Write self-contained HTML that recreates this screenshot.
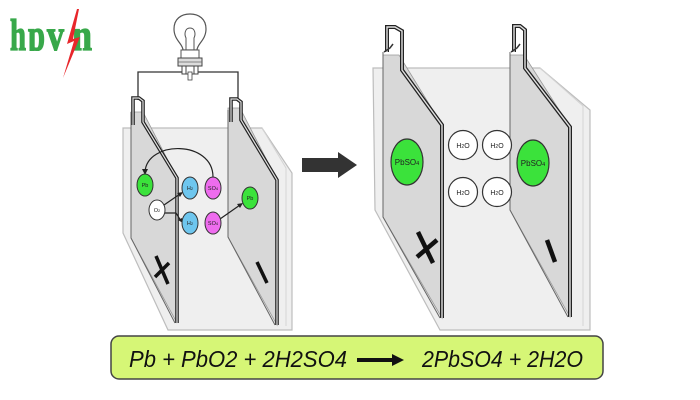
<!DOCTYPE html>
<html><head><meta charset="utf-8"><style>
html,body{margin:0;padding:0;background:#fff;}
svg{display:block;}
</style></head><body>
<svg width="700" height="400" viewBox="0 0 700 400" xmlns="http://www.w3.org/2000/svg" font-family="Liberation Sans, Arial, sans-serif">
<defs><clipPath id="lc"><rect x="0" y="0" width="120" height="51"/></clipPath></defs>
<rect width="700" height="400" fill="#fff"/>
<!-- logo -->
<g clip-path="url(#lc)" font-family="Liberation Serif, serif" font-weight="bold" font-size="44" fill="#38a84a" stroke="#38a84a" stroke-width="1.3">
<text x="10" y="50" textLength="16" lengthAdjust="spacingAndGlyphs">h</text>
<text x="28" y="50" textLength="17" lengthAdjust="spacingAndGlyphs">p</text>
<text x="47" y="50" textLength="17" lengthAdjust="spacingAndGlyphs">v</text>
<text x="72" y="50" textLength="20" lengthAdjust="spacingAndGlyphs">n</text>
</g>
<polygon points="77,9 67,44 74,41 63,78 80,37 73,39 79,9" fill="#e8262b"/>

<!-- ===== LEFT CELL ===== -->
<!-- wire -->
<path d="M138,100 V72 H238 V100" fill="none" stroke="#333" stroke-width="1.3"/>
<!-- bulb -->
<path d="M183,50 C183,44 174,40 174,29 C174,19 181,14 190,14 C199,14 206,19 206,29 C206,40 197,44 197,50 Z" fill="#fff" stroke="#555" stroke-width="1.2"/>
<path d="M186,50 V38 C184,34 185,28 190,28 C195,28 196,34 194,38 V50" fill="none" stroke="#555" stroke-width="1"/>
<rect x="181" y="50" width="18" height="8" fill="#fff" stroke="#555" stroke-width="1"/>
<rect x="178" y="58" width="24" height="8" fill="#ddd" stroke="#444" stroke-width="1"/>
<line x1="178" y1="62" x2="202" y2="62" stroke="#666" stroke-width="0.8"/>
<rect x="182" y="66" width="16" height="8" fill="#fff" stroke="#444" stroke-width="1"/>
<line x1="186" y1="66" x2="186" y2="74" stroke="#444" stroke-width="1"/>
<line x1="194" y1="66" x2="194" y2="74" stroke="#444" stroke-width="1"/>
<rect x="188" y="72" width="4" height="8" fill="#fff" stroke="#444" stroke-width="0.8"/>

<!-- container -->
<polygon points="123,128 262,128 292,173 292,330 168,330 123,233" fill="#efefef" stroke="#bdbdbd" stroke-width="1.2"/>
<polyline points="262,128 286,168 286,326" fill="none" stroke="#d4d4d4" stroke-width="1"/>
<!-- left plate -->
<polygon points="131,112 143,112 177,178 177,323 131,238" fill="#d8d8d8" stroke="#999" stroke-width="0.8"/>
<path d="M133,125 V98 H139 L143,101 V122 L177,178 V323" fill="none" stroke="#222" stroke-width="3.6"/>
<path d="M133,125 V98 H139 L143,101 V122 L177,178 V323" fill="none" stroke="#e0e0e0" stroke-width="1.2"/>
<path d="M131,112 V238 L175,323" fill="none" stroke="#666" stroke-width="1"/>
<!-- right plate -->
<polygon points="228,108 240,108 277,180 277,325 228,237" fill="#d8d8d8" stroke="#999" stroke-width="0.8"/>
<path d="M231,122 V99 H237 L241,102 V120 L277,180 V325" fill="none" stroke="#222" stroke-width="3.6"/>
<path d="M231,122 V99 H237 L241,102 V120 L277,180 V325" fill="none" stroke="#e0e0e0" stroke-width="1.2"/>
<path d="M228,110 V237 L275,325" fill="none" stroke="#666" stroke-width="1"/>
<!-- marks -->
<line x1="156" y1="256" x2="168" y2="284" stroke="#111" stroke-width="3.5"/>
<line x1="155" y1="277" x2="169" y2="263" stroke="#111" stroke-width="3.5"/>
<line x1="257" y1="262" x2="267" y2="283" stroke="#111" stroke-width="3.5"/>

<!-- arc -->
<path d="M213,177 C213,140 147,140 145,172" fill="none" stroke="#222" stroke-width="1.2"/>
<polygon points="145,175 142,169 148,169" fill="#222"/>
<!-- arrows -->
<line x1="164" y1="205" x2="180" y2="194" stroke="#222" stroke-width="1.2"/>
<polygon points="183,192 177,193 180,197" fill="#222"/>
<path d="M165,213 H176 L181,221" fill="none" stroke="#222" stroke-width="1.2"/>
<polygon points="183,223 178,220 182,218" fill="#222"/>
<line x1="220" y1="219" x2="240" y2="205" stroke="#222" stroke-width="1.2"/>
<polygon points="243,203 237,204 240,208" fill="#222"/>

<!-- molecules -->
<g stroke="#333" stroke-width="1">
<ellipse cx="145" cy="185" rx="8" ry="11" fill="#3be23b"/>
<ellipse cx="157" cy="210" rx="8" ry="10" fill="#fff"/>
<ellipse cx="190" cy="188" rx="8" ry="11" fill="#6ec6ee"/>
<ellipse cx="213" cy="188" rx="8" ry="11" fill="#ee6cee"/>
<ellipse cx="190" cy="223" rx="8" ry="11" fill="#6ec6ee"/>
<ellipse cx="213" cy="223" rx="8" ry="11" fill="#ee6cee"/>
<ellipse cx="250" cy="198" rx="8" ry="11" fill="#3be23b"/>
</g>
<g font-size="5.5" fill="#222" text-anchor="middle">
<text x="145" y="187">Pb</text>
<text x="157" y="212">O<tspan font-size="4">2</tspan></text>
<text x="190" y="190">H<tspan font-size="4">2</tspan></text>
<text x="213" y="190">SO<tspan font-size="4">4</tspan></text>
<text x="190" y="225">H<tspan font-size="4">2</tspan></text>
<text x="213" y="225">SO<tspan font-size="4">4</tspan></text>
<text x="250" y="200">Pb</text>
</g>

<!-- big arrow -->
<polygon points="302,158 338,158 338,152 357,165 338,178 338,172 302,172" fill="#333"/>

<!-- ===== RIGHT CELL ===== -->
<polygon points="373,68 540,68 590,110 590,330 440,330 375,210" fill="#efefef" stroke="#bdbdbd" stroke-width="1.2"/>
<polyline points="540,68 583,106 583,326" fill="none" stroke="#d4d4d4" stroke-width="1"/>
<!-- left plate -->
<polygon points="383,55 399,55 442,125 442,318 383,217" fill="#d8d8d8" stroke="#999" stroke-width="0.8"/>
<path d="M387,52 V27 H395 L402,31 V70 L442,125 V318" fill="none" stroke="#222" stroke-width="4"/>
<path d="M387,52 V27 H395 L402,31 V70 L442,125 V318" fill="none" stroke="#e0e0e0" stroke-width="1.4"/>
<path d="M383,52 V217 L440,318" fill="none" stroke="#666" stroke-width="1"/>
<path d="M384,52 L390,48 L393,44" fill="none" stroke="#333" stroke-width="1.5"/>
<!-- right plate -->
<polygon points="510,55 524,55 570,127 570,317 510,210" fill="#d8d8d8" stroke="#999" stroke-width="0.8"/>
<path d="M514,52 V26 H520 L525,30 V68 L570,127 V317" fill="none" stroke="#222" stroke-width="4"/>
<path d="M514,52 V26 H520 L525,30 V68 L570,127 V317" fill="none" stroke="#e0e0e0" stroke-width="1.4"/>
<path d="M510,52 V210 L568,317" fill="none" stroke="#666" stroke-width="1"/>
<path d="M511,52 L517,48 L520,44" fill="none" stroke="#333" stroke-width="1.5"/>
<!-- marks -->
<line x1="418" y1="232" x2="433" y2="263" stroke="#111" stroke-width="4.5"/>
<line x1="417" y1="257" x2="437" y2="240" stroke="#111" stroke-width="4.5"/>
<line x1="547" y1="240" x2="555" y2="262" stroke="#111" stroke-width="4.5"/>
<!-- PbSO4 -->
<g stroke="#333" stroke-width="1.2">
<ellipse cx="407" cy="162" rx="16" ry="23" fill="#3be23b"/>
<ellipse cx="533" cy="163" rx="16" ry="23" fill="#3be23b"/>
<circle cx="463" cy="145" r="14.5" fill="#fff"/>
<circle cx="497" cy="145" r="14.5" fill="#fff"/>
<circle cx="463" cy="192" r="14.5" fill="#fff"/>
<circle cx="497" cy="192" r="14.5" fill="#fff"/>
</g>
<g font-size="8" fill="#222" text-anchor="middle">
<text x="407" y="165">PbSO<tspan font-size="5.5">4</tspan></text>
<text x="533" y="166">PbSO<tspan font-size="5.5">4</tspan></text>
</g>
<g font-size="7" fill="#222" text-anchor="middle">
<text x="463" y="148">H<tspan font-size="5">2</tspan>O</text>
<text x="497" y="148">H<tspan font-size="5">2</tspan>O</text>
<text x="463" y="195">H<tspan font-size="5">2</tspan>O</text>
<text x="497" y="195">H<tspan font-size="5">2</tspan>O</text>
</g>

<!-- equation -->
<rect x="111" y="336" width="492" height="43" rx="8" ry="8" fill="#d6f676" stroke="#444" stroke-width="1.5"/>
<text x="129" y="367" font-size="23" font-style="italic" fill="#111" textLength="218" lengthAdjust="spacingAndGlyphs">Pb + PbO2 + 2H2SO4</text>
<line x1="357" y1="360" x2="393" y2="360" stroke="#111" stroke-width="4"/>
<polygon points="404,360 392,354 392,366" fill="#111"/>
<text x="422" y="367" font-size="23" font-style="italic" fill="#111" textLength="161" lengthAdjust="spacingAndGlyphs">2PbSO4 + 2H2O</text>
</svg>
</body></html>
